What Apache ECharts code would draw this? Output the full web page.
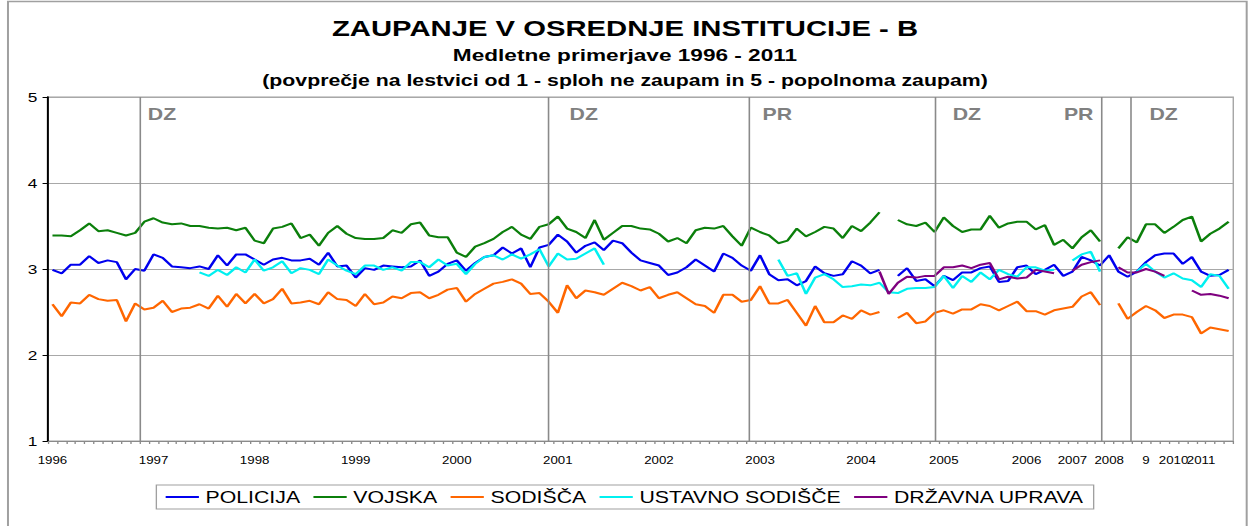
<!DOCTYPE html>
<html>
<head>
<meta charset="utf-8">
<script src="https://cdn.jsdelivr.net/npm/echarts@6/dist/echarts.min.js"></script>
<style>
	html, body { margin: 0; padding: 0; background: #fff; overflow: hidden; }
	/* the original chart is stretched horizontally, so we draw narrower and stretch too */
	#chart { width: 940px; height: 526px; transform: scaleX(1.3298); transform-origin: 0 0; }
</style>
</head>
<body>
<div id="chart"></div>
<script>

// survey waves 1996 - 2011 (one category per wave)
var waveCount = 129;

// year labels and the wave they sit under
var yearLabels = ['1996', '1997', '1998', '1999', '2000', '2001', '2002', '2003', '2004', '2005', '2006', '2007', '2008', '9', '2010', '2011'];
var yearLabelWave = [0, 11, 22, 33, 44, 55, 66, 77, 88, 97, 106, 111, 115, 119, 122, 125];

var policija = [
	2.99, 2.95, 3.05, 3.05, 3.15, 3.07, 3.10, 3.08, 2.88, 3.00,
	2.98, 3.17, 3.13, 3.03, 3.02, 3.01, 3.03, 3.00, 3.16, 3.04,
	3.17, 3.17, 3.11, 3.05, 3.11, 3.13, 3.10, 3.10, 3.12, 3.05,
	3.19, 3.03, 3.04, 2.90, 3.01, 2.99, 3.04, 3.03, 3.02, 3.03,
	3.10, 2.92, 2.97, 3.06, 3.10, 2.98, 3.07, 3.14, 3.16, 3.25,
	3.18, 3.24, 3.02, 3.25, 3.28, 3.40, 3.32, 3.19, 3.27, 3.31,
	3.22, 3.33, 3.30, 3.19, 3.10, 3.07, 3.04, 2.93, 2.96, 3.02,
	3.11, 3.04, 2.97, 3.18, 3.13, 3.04, 2.98, 3.16, 2.94, 2.87,
	2.88, 2.81, 2.86, 3.03, 2.95, 2.92, 2.94, 3.09, 3.04, 2.95,
	2.99, null, 2.92, 3.01, 2.86, 2.88, 2.80, 2.92, 2.87, 2.96,
	2.96, 3.01, 3.03, 2.85, 2.86, 3.02, 3.04, 2.94, 2.99, 3.05,
	2.92, 2.97, 3.14, 3.10, 3.04, 3.16, 2.97, 2.91, 2.97, 3.08,
	3.16, 3.18, 3.18, 3.06, 3.14, 2.97, 2.92, 2.93, 2.99
];

var vojska = [
	3.39, 3.39, 3.38, 3.45, 3.53, 3.44, 3.45, 3.42, 3.39, 3.42,
	3.55, 3.59, 3.54, 3.52, 3.53, 3.50, 3.50, 3.48, 3.47, 3.48,
	3.45, 3.48, 3.33, 3.30, 3.47, 3.49, 3.53, 3.36, 3.40, 3.27,
	3.42, 3.50, 3.41, 3.36, 3.35, 3.35, 3.36, 3.45, 3.42, 3.52,
	3.54, 3.39, 3.37, 3.37, 3.19, 3.14, 3.26, 3.30, 3.35, 3.43,
	3.49, 3.40, 3.35, 3.49, 3.52, 3.61, 3.47, 3.43, 3.36, 3.57,
	3.34, 3.42, 3.50, 3.50, 3.47, 3.46, 3.41, 3.32, 3.36, 3.30,
	3.45, 3.48, 3.47, 3.50, 3.38, 3.27, 3.48, 3.43, 3.39, 3.30,
	3.33, 3.47, 3.38, 3.43, 3.49, 3.47, 3.36, 3.50, 3.44, 3.54,
	3.66, null, 3.57, 3.52, 3.50, 3.54, 3.43, 3.60, 3.50, 3.43,
	3.46, 3.46, 3.62, 3.48, 3.53, 3.55, 3.55, 3.46, 3.51, 3.28,
	3.34, 3.24, 3.37, 3.45, 3.32, null, 3.24, 3.37, 3.31, 3.52,
	3.52, 3.42, 3.49, 3.57, 3.61, 3.32, 3.41, 3.47, 3.55
];

var sodisca = [
	2.59, 2.45, 2.61, 2.60, 2.70, 2.65, 2.63, 2.64, 2.39, 2.60,
	2.53, 2.55, 2.63, 2.50, 2.54, 2.55, 2.59, 2.54, 2.69, 2.56,
	2.71, 2.60, 2.71, 2.60, 2.65, 2.77, 2.60, 2.61, 2.63, 2.59,
	2.73, 2.65, 2.64, 2.57, 2.71, 2.59, 2.61, 2.68, 2.66, 2.72,
	2.73, 2.66, 2.70, 2.76, 2.78, 2.62, 2.71, 2.77, 2.83, 2.85,
	2.88, 2.83, 2.71, 2.72, 2.62, 2.49, 2.81, 2.66, 2.75, 2.73,
	2.70, 2.77, 2.84, 2.80, 2.75, 2.79, 2.66, 2.70, 2.73, 2.66,
	2.59, 2.57, 2.49, 2.70, 2.70, 2.62, 2.64, 2.80, 2.60, 2.60,
	2.64, 2.49, 2.34, 2.57, 2.38, 2.38, 2.46, 2.42, 2.52, 2.47,
	2.50, null, 2.43, 2.49, 2.37, 2.39, 2.49, 2.52, 2.48, 2.53,
	2.53, 2.59, 2.57, 2.52, 2.57, 2.62, 2.51, 2.51, 2.47, 2.52,
	2.54, 2.56, 2.68, 2.73, 2.58, null, 2.60, 2.42, 2.50, 2.57,
	2.52, 2.43, 2.47, 2.47, 2.44, 2.25, 2.32, 2.30, 2.28
];

var ustavnoSodisce = [
	null, null, null, null, null, null, null, null, null, null,
	null, null, null, null, null, null, 2.96, 2.92, 2.99, 2.93,
	3.02, 2.96, 3.11, 2.98, 3.02, 3.09, 2.95, 3.01, 2.99, 2.94,
	3.11, 3.04, 2.98, 2.94, 3.04, 3.04, 2.99, 3.02, 2.98, 3.08,
	3.08, 3.02, 3.11, 3.04, 3.06, 2.94, 3.06, 3.14, 3.16, 3.11,
	3.17, 3.12, 3.17, 3.23, 3.03, 3.18, 3.11, 3.12, 3.18, 3.24,
	3.05, null, null, null, null, null, null, null, null, null,
	null, null, null, null, null, null, null, null, null, 3.11,
	2.92, 2.95, 2.71, 2.90, 2.94, 2.88, 2.79, 2.80, 2.82, 2.81,
	2.84, 2.73, 2.72, 2.77, 2.78, 2.78, 2.79, 2.92, 2.78, 2.92,
	2.85, 2.96, 2.88, 2.99, 2.94, 2.91, 3.02, 3.02, 2.98, 2.99,
	null, 3.10, 3.17, 3.20, 2.97, null, null, null, 2.97, 3.06,
	2.97, 2.90, 2.95, 2.89, 2.87, 2.79, 2.94, 2.92, 2.77
];

var drzavnaUprava = [
	null, null, null, null, null, null, null, null, null, null,
	null, null, null, null, null, null, null, null, null, null,
	null, null, null, null, null, null, null, null, null, null,
	null, null, null, null, null, null, null, null, null, null,
	null, null, null, null, null, null, null, null, null, null,
	null, null, null, null, null, null, null, null, null, null,
	null, null, null, null, null, null, null, null, null, null,
	null, null, null, null, null, null, null, null, null, null,
	null, null, null, null, null, null, null, null, null, null,
	2.97, 2.71, 2.84, 2.91, 2.90, 2.92, 2.92, 3.02, 3.02, 3.04,
	3.01, 3.05, 3.07, 2.88, 2.91, 2.89, 2.90, 2.99, 2.97, 2.95,
	null, 2.98, 3.05, 3.08, 3.10, null, 3.02, 2.96, 2.96, 3.00,
	2.97, 2.92, null, null, 2.75, 2.70, 2.71, 2.69, 2.66
];

// election markers (in wave units) and their captions
var eventLines = [9.97, 54.5, 76.3, 96.6, 114.6, 117.8];
var eventNames = ['DZ', 'DZ', 'PR', 'DZ', 'PR', 'DZ'];
var eventNameAt = [10.8, 56.7, 77.7, 98.4, 110.5, 119.8];

var seriesNames = ['POLICIJA', 'VOJSKA', 'SODIŠČA', 'USTAVNO SODIŠČE', 'DRŽAVNA UPRAVA'];
var seriesData = [policija, vojska, sodisca, ustavnoSodisce, drzavnaUprava];
var seriesColors = ['#0000ee', '#0b7f0b', '#ff6600', '#00f0f0', '#7f007f'];

var FONT = '"Liberation Sans", Arial, sans-serif';

var waves = [];
for (var ii = 0; ii < waveCount; ii++) {
	waves.push(String(ii + 1));
}

var chart = echarts.init(document.getElementById('chart'), null, { renderer: 'svg' });

var series = seriesNames.map(function (name, idx) {
	return {
		name: name,
		type: 'line',
		xAxisIndex: 0,
		yAxisIndex: 0,
		data: seriesData[idx],
		symbol: 'none',
		connectNulls: false,
		lineStyle: { color: seriesColors[idx], width: 2 },
		itemStyle: { color: seriesColors[idx] },
		z: 3
	};
});

// carrier for the vertical election lines and their captions
series.push({
	name: 'events',
	type: 'line',
	xAxisIndex: 1,
	yAxisIndex: 0,
	data: [],
	silent: true,
	z: 2,
	markLine: {
		silent: true,
		symbol: ['none', 'none'],
		label: { show: false },
		lineStyle: { color: '#8a8a8a', width: 1.2, type: 'solid' },
		data: eventLines.map(function (x) { return { xAxis: x }; })
	},
	markPoint: {
		silent: true,
		symbol: 'rect',
		symbolSize: 1,
		itemStyle: { color: 'rgba(0,0,0,0)' },
		label: {
			show: true,
			position: 'right',
			distance: 0,
			color: '#808080',
			fontFamily: FONT,
			fontWeight: 'bold',
			fontSize: 16
		},
		data: eventNames.map(function (txt, idx) {
			return { coord: [eventNameAt[idx], 4.8], value: txt, label: { formatter: txt } };
		})
	}
});

var option = {
	animation: false,
	backgroundColor: '#fff',
	title: [
		{
			text: 'ZAUPANJE V OSREDNJE INSTITUCIJE - B',
			left: 'center', top: 12,
			textStyle: { fontFamily: FONT, fontSize: 22, fontWeight: 'bold', color: '#000' }
		},
		{
			text: 'Medletne primerjave 1996 - 2011',
			left: 'center', top: 42,
			textStyle: { fontFamily: FONT, fontSize: 17, fontWeight: 'bold', color: '#000' }
		},
		{
			text: '(povprečje na lestvici od 1 - sploh ne zaupam in 5 - popolnoma zaupam)',
			left: 'center', top: 67,
			textStyle: { fontFamily: FONT, fontSize: 16, fontWeight: 'bold', color: '#000' }
		}
	],
	graphic: [
		{
			type: 'rect',
			shape: { x: 6, y: 1.5, width: 931.5, height: 560 },
			style: { fill: 'none', stroke: '#a0a0a0', lineWidth: 1.5 },
			silent: true,
			z: -1
		}
	],
	legend: {
		data: seriesNames,
		left: 'center',
		top: 485,
		icon: 'rect',
		itemWidth: 25,
		itemHeight: 2,
		itemGap: 10,
		padding: [4, 7],
		borderColor: '#a0a0a0',
		borderWidth: 1,
		backgroundColor: '#fff',
		textStyle: { fontFamily: FONT, fontSize: 16, color: '#000' }
	},
	grid: {
		left: 36,
		right: 12.6,
		top: 97,
		bottom: 85,
		show: true,
		borderColor: '#a0a0a0',
		borderWidth: 1,
		backgroundColor: 'transparent'
	},
	xAxis: [
		{
			type: 'category',
			data: waves,
			boundaryGap: true,
			axisLine: { lineStyle: { color: '#8a8a8a', width: 1 } },
			axisTick: { show: true, interval: 0, length: 3, lineStyle: { color: '#8a8a8a' } },
			axisLabel: {
				interval: 0,
				margin: 14,
				fontFamily: FONT,
				fontSize: 10,
				color: '#000',
				formatter: function (value, index) {
					var k = yearLabelWave.indexOf(index);
					return k >= 0 ? yearLabels[k] : '';
				}
			},
			splitLine: { show: false }
		},
		{
			type: 'value',
			min: 0,
			max: waveCount,
			show: false
		}
	],
	yAxis: {
		type: 'value',
		min: 1,
		max: 5,
		interval: 1,
		axisLine: { show: true, lineStyle: { color: '#000', width: 1.5 } },
		axisTick: { show: true, length: 4, lineStyle: { color: '#000' } },
		axisLabel: { fontFamily: FONT, fontSize: 13, color: '#000', margin: 8 },
		splitLine: { lineStyle: { color: '#a8a8a8', width: 1 } }
	},
	series: series
};

chart.setOption(option);

</script>
</body>
</html>
